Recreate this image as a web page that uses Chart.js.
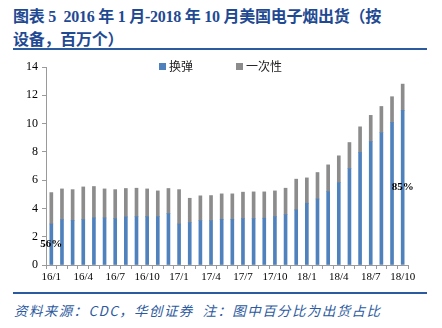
<!DOCTYPE html>
<html>
<head>
<meta charset="utf-8">
<script src="https://cdn.jsdelivr.net/npm/chart.js@4"></script>
<style>
  body { margin: 0; background: #fff; }
  #wrap { position: relative; width: 442px; height: 328px; overflow: hidden; }
  .title { position: absolute; left: 13px; color: #1f4a93; font: bold 16px "Liberation Serif", "Noto Sans CJK SC", serif; white-space: nowrap; letter-spacing: -0.25px; }
  .rule { position: absolute; left: 13px; width: 414px; height: 2px; background: #2c5a9e; }
  #legend { position: absolute; top: 57px; left: 159px; font: 12px "Noto Sans CJK SC", sans-serif; color: #222; white-space: nowrap; }
  #legend span.sw { display: inline-block; width: 7px; height: 7px; margin-right: 3px; vertical-align: 1px; }
  #legend span.item { margin-right: 43px; }
  #note { position: absolute; left: 14px; top: 300px; color: #2c5a9e; font: italic 13.5px "Noto Sans CJK SC", sans-serif; white-space: nowrap; letter-spacing: 1.4px; }
  #box { position: absolute; left: 0; top: 52px; width: 442px; height: 240px; }
</style>
</head>
<body>
<div id="wrap">
  <div class="title" style="top:3px">图表 5&nbsp; 2016 年 1 月-2018 年 10 月美国电子烟出货（按</div>
  <div class="title" style="top:26px">设备，百万个）</div>
  <div class="rule" style="top:48px"></div>
  <div id="box"><canvas id="myChart" width="442" height="240"></canvas></div>
  <div id="legend"></div>
  <div class="rule" style="top:292px"></div>
  <div id="note">资料来源：CDC，华创证券&nbsp;&nbsp;注：图中百分比为出货占比</div>
</div>
<script>
// months 2016/1 - 2018/10
let months = ['16/1','16/2','16/3','16/4','16/5','16/6','16/7','16/8','16/9','16/10','16/11','16/12',
              '17/1','17/2','17/3','17/4','17/5','17/6','17/7','17/8','17/9','17/10','17/11','17/12',
              '18/1','18/2','18/3','18/4','18/5','18/6','18/7','18/8','18/9','18/10'];

// 换弹 (cartridge devices), millions
let refill = [2.9, 3.21, 3.16, 3.21, 3.33, 3.33, 3.28, 3.40, 3.42, 3.42, 3.42, 3.64,
              2.90, 3.00, 3.14, 3.14, 3.23, 3.23, 3.28, 3.28, 3.31, 3.42, 3.56, 3.90,
              4.37, 4.67, 5.19, 5.83, 6.82, 7.96, 8.73, 9.37, 10.08, 10.93];

// total shipments
let totals = [5.12, 5.38, 5.33, 5.52, 5.55, 5.38, 5.33, 5.41, 5.43, 5.38, 5.24, 5.41,
              5.33, 4.72, 4.89, 4.91, 5.03, 5.03, 5.15, 5.17, 5.17, 5.24, 5.43, 6.07,
              6.16, 6.54, 7.08, 7.72, 8.66, 9.77, 10.58, 11.21, 11.90, 12.79];
// 一次性 (disposable) = total - refill
let disposable = totals.map((t, i) => +(t - refill[i]).toFixed(2));

// share labels on the blue bars
let shareIdx = [0, 33];
let shareText = ['56%', '85%'];

let yTicks = [0, 2, 4, 6, 8, 10, 12, 14];

let blue = '#4f81bd';
let gray = '#8c8c8c';
let axisGray = '#9a9a9a';

// legend in html
let legendDiv = document.getElementById('legend');
legendDiv.innerHTML = `
    <span class="item"><span class="sw" style="background:${blue}"></span>换弹</span><span><span class="sw" style="background:${gray}"></span>一次性</span>
`;

let shareLabels = {
    id: 'shareLabels',
    afterDatasetsDraw(chart) {
        const ctx = chart.ctx;
        const meta = chart.getDatasetMeta(0);
        ctx.save();
        ctx.font = 'bold 11px "Liberation Serif", serif';
        ctx.fillStyle = '#000';
        ctx.textAlign = 'center';
        ctx.textBaseline = 'middle';
        shareIdx.forEach((idx, k) => {
            const bar = meta.data[idx];
            const yMid = (bar.y + bar.base) / 2;
            ctx.fillText(shareText[k], bar.x, yMid);
        });
        ctx.restore();
    }
};

new Chart('myChart', {
    type: 'bar',
    data: {
        labels: months,
        datasets: [
            { label: '换弹', data: refill, backgroundColor: blue, barThickness: 3 },
            { label: '一次性', data: disposable, backgroundColor: gray, barThickness: 3 }
        ]
    },
    options: {
        responsive: false,
        animation: false,
        layout: { padding: { left: 0, right: 34, top: 15, bottom: 0 } },
        plugins: {
            legend: { display: false },
            tooltip: { enabled: false }
        },
        scales: {
            x: {
                stacked: true,
                grid: { drawOnChartArea: false, color: axisGray, tickLength: 4, offset: true },
                border: { color: axisGray },
                afterFit: (s) => { s.height = 27; },
                ticks: {
                    autoSkip: false,
                    maxRotation: 0,
                    padding: 2,
                    color: '#000',
                    font: { family: '"Liberation Serif", serif', size: 11 },
                    callback: (v, i) => (i % 3 === 0 ? months[i] : '')
                }
            },
            y: {
                stacked: true,
                min: 0,
                max: 14,
                afterFit: (s) => { s.width = 46; },
                afterBuildTicks: (s) => { s.ticks = yTicks.map(v => ({ value: v })); },
                grid: { drawOnChartArea: false, color: axisGray, tickLength: 4 },
                border: { color: axisGray },
                ticks: {
                    padding: 4,
                    color: '#000',
                    font: { family: '"Liberation Serif", serif', size: 12 }
                }
            }
        }
    },
    plugins: [shareLabels]
});
</script>
</body>
</html>
